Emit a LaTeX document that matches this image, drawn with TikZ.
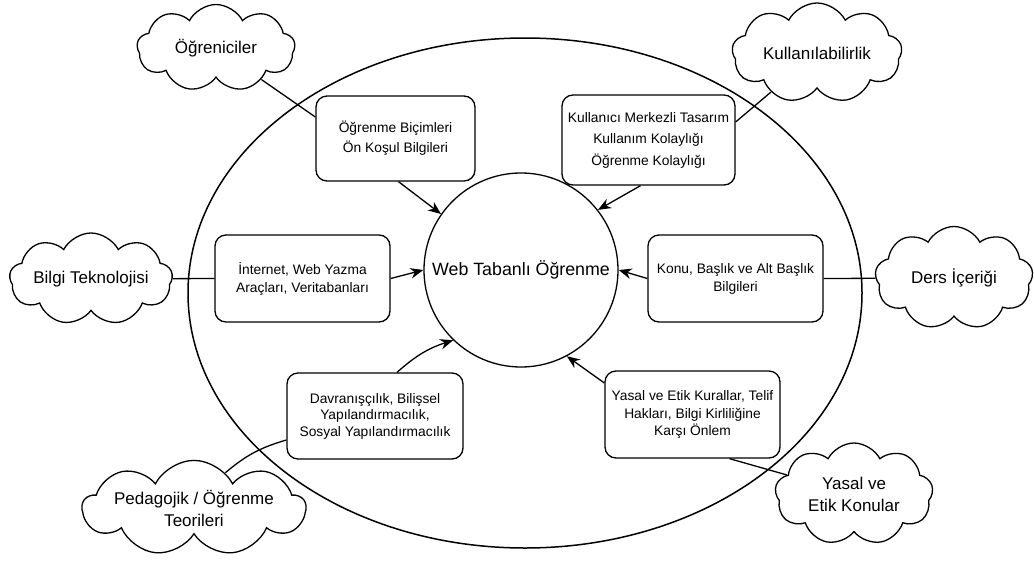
\documentclass[tikz,border=0pt]{standalone}
\usepackage{fontspec}
\setmainfont{Liberation Sans}
\usetikzlibrary{shapes.symbols,shapes.geometric,arrows.meta,calc}

\begin{document}
\begin{tikzpicture}[x=1pt,y=-1pt,
  lw/.style={line width=1.3pt},
  cloudbox/.style={cloud, draw, lw, cloud puffs=9, cloud puff arc=125,
    cloud ignores aspect, inner sep=0pt, align=center,
    font=\fontsize{17}{22}\selectfont},
  topicbox/.style={draw, lw, rounded corners=11pt, align=center,
    inner sep=0pt, font=\fontsize{13.8}{18}\selectfont},
  link/.style={draw, lw},
  feed/.style={draw, lw, -{Stealth[length=13pt,width=10.5pt]}}]

\useasboundingbox (0,0) rectangle (1034,563);

% outer frame and centre
\node[ellipse, draw, line width=1.5pt, minimum width=674pt, minimum height=510pt, inner sep=0pt] (frame) at (525,293) {};
\node[circle, draw, lw, minimum size=194pt, inner sep=0pt, font=\fontsize{17.8}{20}\selectfont] (core) at (521,270) {Web Tabanlı Öğrenme};

% topic boxes
\node[topicbox, minimum width=159pt, minimum height=85pt, font=\fontsize{13.8}{20}\selectfont] (b1) at (395.5,138.5)
  {Öğrenme Biçimleri\\Ön Koşul Bilgileri};
\node[topicbox, minimum width=173pt, minimum height=90pt, font=\fontsize{13.8}{21.5}\selectfont] (b2) at (648.5,140)
  {Kullanıcı Merkezli Tasarım\\Kullanım Kolaylığı\\Öğrenme Kolaylığı};
\node[topicbox, minimum width=175pt, minimum height=87pt] (b3) at (302.5,278.5)
  {İnternet, Web Yazma\\Araçları, Veritabanları};
\node[topicbox, minimum width=175pt, minimum height=87pt] (b4) at (735.5,278.5)
  {Konu, Başlık ve Alt Başlık\\Bilgileri};
\node[topicbox, minimum width=176pt, minimum height=86pt, font=\fontsize{13.8}{16.5}\selectfont] (b5) at (375,416)
  {Davranışçılık, Bilişsel\\Yapılandırmacılık,\\Sosyal Yapılandırmacılık};
\node[topicbox, minimum width=175pt, minimum height=87pt, font=\fontsize{13.8}{17.5}\selectfont] (b6) at (692.5,414.5)
  {Yasal ve Etik Kurallar, Telif\\Hakları, Bilgi Kirliliğine\\Karşı Önlem};

% clouds
\node[cloudbox, minimum width=158pt, minimum height=87pt] (cA) at (216,48) {Öğreniciler};
\node[cloudbox, minimum width=170pt, minimum height=100pt] (cB) at (817,53) {Kullanılabilirlik};
\node[cloudbox, minimum width=163pt, minimum height=92pt] (cC) at (91,279) {Bilgi Teknolojisi};
\node[cloudbox, minimum width=158pt, minimum height=103pt] (cD) at (954,278) {Ders İçeriği};
\node[cloudbox, minimum width=190pt, minimum height=94pt] (cE) at (194,508) {Pedagojik / Öğrenme\\Teorileri};
\node[cloudbox, minimum width=158pt, minimum height=102pt] (cF) at (854,494) {Yasal ve\\Etik Konular};

% clouds to boxes
\draw[link] (cA) -- ($(b1.west)+(0,-21.5)$);
\draw[link] (cB) -- ($(b2.east)+(0,-18)$);
\draw[link] (cC) -- (b3.west);
\draw[link] (cD) -- (b4.east);
\draw[link] (cE) to[bend left=12] ($(b5.west)+(0,24)$);
\draw[link] (cF) -- ($(b6.south)+(37,0)$);

% boxes to centre
\draw[feed] ($(b1.south)+(3,0)$) -- (core.145);
\draw[feed] ($(b2.south)+(-8,0)$) -- (core.38);
\draw[feed] (b3.east) -- (core.west);
\draw[feed] (b4.west) -- (core.east);
\draw[feed] ($(b5.north)+(22,0)$) to[bend left=12] (core.226);
\draw[feed] ($(b6.west)+(0,-31.5)$) -- (core.298);
\end{tikzpicture}
\end{document}
